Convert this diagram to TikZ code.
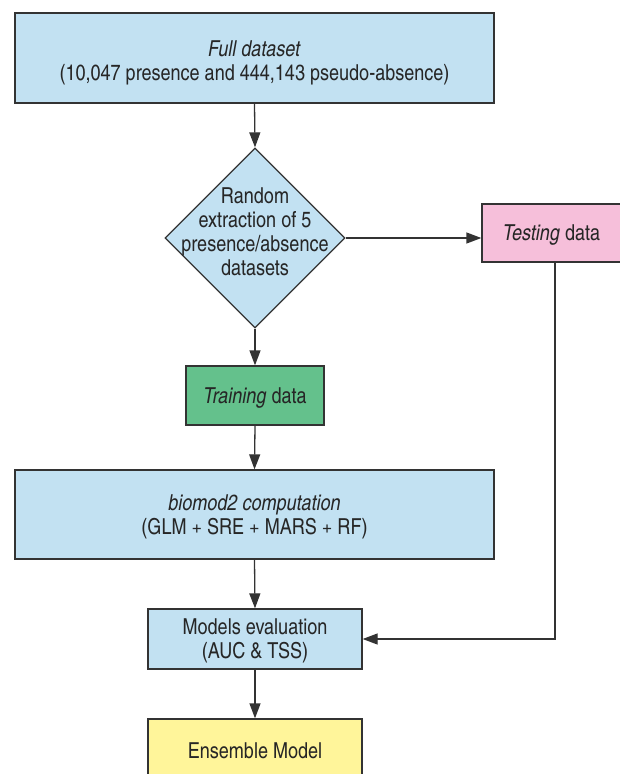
\documentclass[tikz,border=0pt]{standalone}
\usepackage{fontspec}
\setmainfont{texgyreheroscn}[Extension=.otf, UprightFont=*-regular, ItalicFont=*-italic, BoldFont=*-bold]
\usetikzlibrary{shapes.geometric,arrows.meta}
\definecolor{lblue}{HTML}{C2E1F2}
\definecolor{lgreen}{HTML}{64C18C}
\definecolor{lpink}{HTML}{F6BFDA}
\definecolor{lyellow}{HTML}{FFF59A}
\definecolor{edge}{HTML}{333333}
\newcommand\toplift[1]{\rule{0pt}{#1}}
\begin{document}
\begin{tikzpicture}[x=1pt,y=-1pt,
  every node/.style={font=\fontsize{22}{24}\selectfont, text=black!85},
  box/.style={draw=edge, line width=1.3pt, rectangle, inner sep=0pt, align=center},
  decision/.style={draw=edge, line width=1.3pt, diamond, aspect=1, fill=lblue, inner sep=0pt, minimum width=180pt, minimum height=180pt},
  conn/.style={draw=edge, line width=1.3pt, -{Triangle[length=15pt,width=11pt]}},
  plain/.style={draw=edge, line width=1.3pt}]
\useasboundingbox (0,0) rectangle (619,774);
\node[box, fill=lblue, minimum width=479pt, minimum height=90pt] (full) at (254.5,58)
  {\toplift{25pt}\textit{Full dataset}\\(10,047 presence and 444,143 pseudo-absence)};
\node[decision] (split) at (255,238) {};
\node[align=center, inner sep=0pt] (splittext) at (255,232)
  {Random\\extraction of 5\\presence/absence\\datasets};
\node[box, fill=lpink, minimum width=139pt, minimum height=58pt] (testing) at (551.5,233)
  {\toplift{20pt}\textit{Testing} data};
\node[box, fill=lgreen, minimum width=138pt, minimum height=59pt] (training) at (255,395.5)
  {\toplift{21pt}\textit{Training} data};
\node[box, fill=lblue, minimum width=479pt, minimum height=89pt] (biomod) at (254.5,514.5)
  {\toplift{21pt}\textit{biomod2 computation}\\(GLM + SRE + MARS + RF)};
\node[box, fill=lblue, minimum width=214pt, minimum height=60pt] (models) at (255,639)
  {\toplift{20pt}Models evaluation\\(AUC \& TSS)};
\node[box, fill=lyellow, minimum width=214pt, minimum height=62pt] (ensemble) at (255,750)
  {\toplift{18pt}Ensemble Model};
\coordinate (tcorner) at (555,639);
\draw[conn] (full.south) -- (split.north);
\draw[conn] (split.east) -- (split.east -| testing.west);
\draw[conn] (split.south) -- (training.north);
\draw[conn] (training.south) -- (biomod.north);
\draw[conn] (biomod.south) -- (models.north);
\draw[conn] (models.south) -- (ensemble.north);
\draw[conn] (testing.south -| tcorner) -- (tcorner) -- (models.east);
\end{tikzpicture}
\end{document}
